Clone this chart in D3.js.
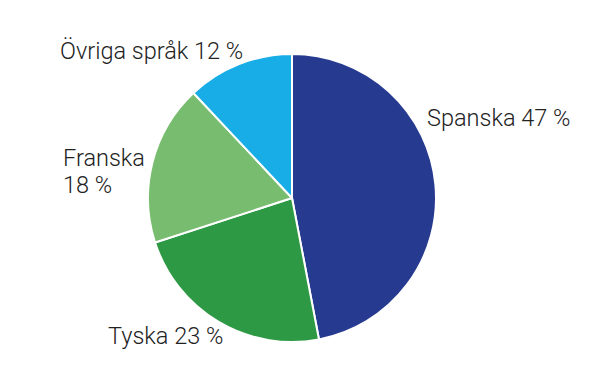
<!DOCTYPE html>
<html><head><meta charset="utf-8">
<script src="https://cdn.jsdelivr.net/npm/d3@7"></script>
<style>body{margin:0;background:#fff}svg{display:block}</style>
</head><body>
<svg id="c" width="600" height="380"></svg>
<script>
const categories = ["Spanska", "Tyska", "Franska", "Övriga språk"];
const values = [47, 23, 18, 12];
const colors = ["#263a8f", "#2e9944", "#78bd6f", "#18ade6"];

const W = 600, H = 380, cx = 292, cy = 198, R = 144;
const svg = d3.select("#c");
const g = svg.append("g").attr("transform", `translate(${cx},${cy})`);
const data = categories.map((c, i) => ({cat: c, v: values[i], col: colors[i]}));
const pie = d3.pie().value(d => d.v).sort(null);
const arc = d3.arc().innerRadius(0).outerRadius(R);
const arcs = pie(data);
g.selectAll("path").data(arcs).join("path")
  .attr("d", arc).attr("fill", d => d.data.col)
  .attr("stroke", "#fff").attr("stroke-width", 2).attr("stroke-linejoin", "round");

// label layout (relative to pie centre)
const labelLayout = [
  {dx: 135, dy: -72, lines: 1},
  {dx: -184, dy: 146, lines: 1},
  {dx: -229, dy: -32, lines: 2},
  {dx: -232, dy: -139, lines: 1}
];
arcs.forEach((a, i) => {
  const L = labelLayout[i];
  const t = g.append("text").attr("x", L.dx).attr("y", L.dy)
    .attr("font-family", "Roboto, sans-serif").attr("font-weight", 300)
    .attr("font-size", 23.5).attr("fill", "#222");
  if (L.lines === 2) {
    t.append("tspan").attr("x", L.dx).text(a.data.cat);
    t.append("tspan").attr("x", L.dx).attr("dy", 27).text(`${a.data.v} %`);
  } else t.text(`${a.data.cat} ${a.data.v} %`);
});
</script>
</body></html>
